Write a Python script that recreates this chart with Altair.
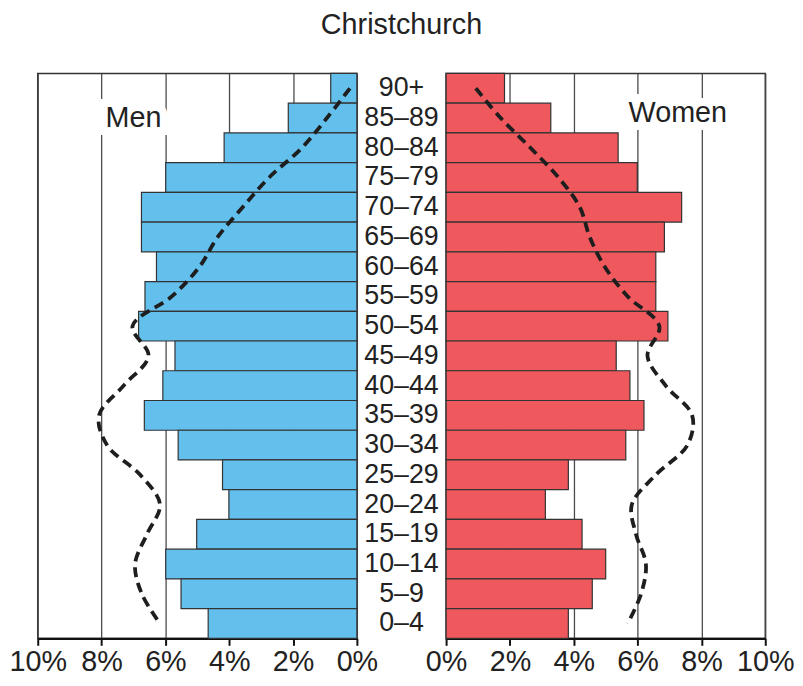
import altair as alt
import pandas as pd

FONT = "Liberation Sans"

ages = ["90+", "85–89", "80–84", "75–79", "70–74", "65–69", "60–64", "55–59",
        "50–54", "45–49", "40–44", "35–39", "30–34", "25–29", "20–24", "15–19",
        "10–14", "5–9", "0–4"]
men = [0.82, 2.15, 4.16, 5.99, 6.75, 6.75, 6.28, 6.64, 6.84, 5.70, 6.08, 6.66,
       5.60, 4.21, 4.01, 5.02, 5.99, 5.51, 4.66]
women = [1.83, 3.28, 5.39, 5.99, 7.38, 6.84, 6.57, 6.57, 6.95, 5.33, 5.76, 6.20,
         5.63, 3.83, 3.11, 4.26, 5.00, 4.58, 3.83]
men_ref = [0.22, 0.94, 1.72, 2.75, 3.58, 4.36, 4.93, 5.80, 7.03, 6.53, 7.31, 8.08,
           7.83, 6.79, 6.17, 6.58, 6.95, 6.74, 6.17]
women_ref = [0.93, 1.71, 2.64, 3.52, 4.19, 4.50, 4.97, 5.69, 6.68, 6.31, 6.88, 7.71,
             7.56, 6.57, 5.82, 5.95, 6.26, 6.11, 5.69]
ticks = [0, 2, 4, 6, 8, 10]

df = pd.DataFrame({"age": ages, "idx": list(range(len(ages))), "men": men,
                   "women": women, "men_ref": men_ref, "women_ref": women_ref})

W, H = 322, 570

yenc = alt.Y("age:N", sort=ages, axis=None,
             scale=alt.Scale(paddingInner=0, paddingOuter=0))


def panel(val, ref, color, reverse, label, label_x, label_dy):
    xscale = alt.Scale(domain=[0, 10], reverse=reverse, nice=False)
    xaxis = alt.Axis(values=ticks, labelExpr="datum.value + '%'", grid=True,
                     gridColor="#4a4a4a", gridWidth=1.3, domainColor="#111",
                     domainWidth=2.5, tickColor="#111", tickWidth=2, tickSize=7,
                     labelFontSize=29, labelFont=FONT, labelColor="#222",
                     labelPadding=2, title=None, labelOverlap=False,
                     labelFlush=False)
    base = alt.Chart(df)
    bars = base.mark_bar(fill=color, stroke="#333", strokeWidth=1.2).encode(
        x=alt.X(f"{val}:Q", scale=xscale, axis=xaxis), y=yenc)
    line = base.mark_line(color="#1e1e1e", strokeWidth=3.8, strokeDash=[10, 6],
                          interpolate="catmull-rom").encode(
        x=alt.X(f"{ref}:Q", scale=xscale), y=yenc, order="idx:Q")
    lab = pd.DataFrame({"t": [label], "x": [label_x], "age": ["85–89"]})
    halo = alt.Chart(lab).mark_text(fontSize=29, font=FONT, fill="white",
                                    stroke="white", strokeWidth=16,
                                    dy=label_dy).encode(
        x=alt.X("x:Q", scale=xscale), y=yenc, text="t:N")
    txt = alt.Chart(lab).mark_text(fontSize=29, font=FONT, color="#222",
                                   dy=label_dy).encode(
        x=alt.X("x:Q", scale=xscale), y=yenc, text="t:N")
    return alt.layer(halo, txt, bars, line).properties(width=W, height=H)


left = panel("men", "men_ref", "#63BFEC", True, "Men", 7.0, 0)
right = panel("women", "women_ref", "#EF585D", False, "Women", 7.26, -5)

middle = alt.Chart(df).mark_text(fontSize=27, font=FONT, color="#222",
                                 align="center", baseline="middle").encode(
    y=yenc, text="age:N"
).properties(width=90, height=H,
             view=alt.ViewBackground(stroke="transparent"))

chart = alt.hconcat(left, middle, right, spacing=0, bounds="flush").properties(
    title=alt.Title("Christchurch", fontSize=29, font=FONT, fontWeight="normal",
                    color="#222", offset=32, anchor="middle"),
    padding={"left": 0, "top": 0, "right": 0, "bottom": 0},
).configure_view(stroke="#333", strokeWidth=1.5)

chart.save("out.html", embed_options={"renderer": "svg", "actions": False})
